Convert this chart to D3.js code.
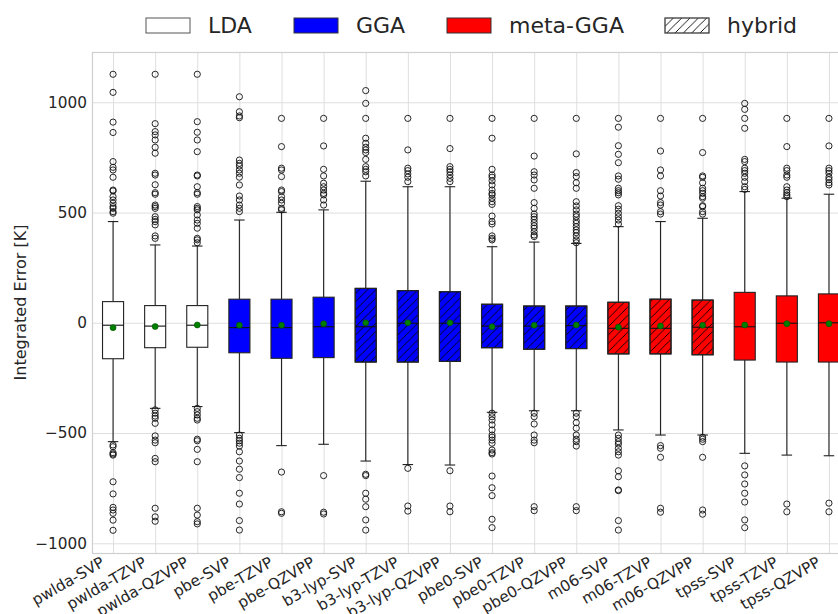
<!DOCTYPE html>
<html>
<head>
<meta charset="utf-8">
<script src="https://cdn.jsdelivr.net/npm/d3@7"></script>
<style>
  body { margin: 0; background: #fff; }
  svg, svg text { font-family: "DejaVu Sans", sans-serif; }
  .grid line { stroke: #dedede; stroke-width: 1; }
  .grid .domain { display: none; }
  .tick text { fill: #262626; }
</style>
</head>
<body>
<svg id="chart"></svg>
<script>
'use strict'

// categories (functional + basis set)
const names = ['pwlda-SVP', 'pwlda-TZVP', 'pwlda-QZVPP', 'pbe-SVP', 'pbe-TZVP', 'pbe-QZVPP',
  'b3-lyp-SVP', 'b3-lyp-TZVP', 'b3-lyp-QZVPP', 'pbe0-SVP', 'pbe0-TZVP', 'pbe0-QZVPP',
  'm06-SVP', 'm06-TZVP', 'm06-QZVPP', 'tpss-SVP', 'tpss-TZVP', 'tpss-QZVPP']
const families = ['LDA', 'LDA', 'LDA', 'GGA', 'GGA', 'GGA', 'GGA', 'GGA', 'GGA',
  'GGA', 'GGA', 'GGA', 'meta-GGA', 'meta-GGA', 'meta-GGA', 'meta-GGA', 'meta-GGA', 'meta-GGA']
const hybrid = [false, false, false, false, false, false, true, true, true,
  true, true, true, true, true, true, false, false, false]

// box statistics [K]
const q3 = [96, 78, 78, 107, 107, 116, 156, 146, 141, 84, 76, 76, 93, 107, 103, 138, 122, 131]
const medians = [-11, -15, -11, -22, -22, -18, -18, -2, -2, -15, -15, -13, -25, -25, -20, -18, -2, 0]
const q1 = [-163, -113, -111, -136, -161, -158, -178, -178, -175, -113, -120, -117, -141, -141, -145, -169, -178, -178]
const whiskerHigh = [459, 353, 348, 466, 501, 512, 642, 617, 617, 345, 366, 360, 436, 459, 474, 595, 565, 583]
const whiskerLow = [-539, -388, -380, -498, -557, -551, -627, -643, -645, -406, -399, -399, -486, -509, -509, -592, -600, -603]
const means = [-22, -17, -10, -11, -11, -4, 0, 0, 0, -18, -11, -10, -20, -15, -11, -10, -4, -4]

// fliers per category
const outliers = [
  [1127, 1045, 910, 863, 731, 705, 693, 660, 602, 598, 572, 557, 542, 527, 519, 504, 497, -554, -562, -589, -595, -600, -721, -776, -837, -849, -864, -895, -941],
  [1127, 903, 867, 852, 829, 796, 769, 678, 670, 626, 590, 583, 534, 527, 519, 481, 469, 459, 444, 394, 383, -395, -410, -423, -433, -456, -513, -532, -544, -615, -630, -841, -880, -900],
  [1127, 912, 864, 829, 776, 670, 666, 617, 590, 583, 527, 519, 512, 489, 466, 451, 429, 383, 376, 363, -388, -403, -418, -433, -441, -528, -535, -574, -630, -841, -872, -902, -912],
  [1025, 957, 938, 930, 738, 723, 711, 693, 678, 660, 625, 575, 557, 534, 519, 504, -509, -524, -535, -546, -559, -585, -627, -664, -702, -773, -822, -897, -940],
  [927, 799, 701, 693, 663, 602, 595, 572, 557, 542, 519, 512, -677, -857, -864],
  [927, 802, 696, 666, 633, 617, 602, 587, 580, 557, 534, -693, -859, -867],
  [1053, 995, 927, 837, 814, 796, 784, 772, 741, 708, 696, 685, 666, -687, -693, -773, -800, -834, -894, -940],
  [927, 784, 701, 690, 675, 660, 640, -660, -831, -854],
  [927, 790, 708, 696, 685, 670, 655, 640, -671, -831, -857],
  [927, 837, 696, 670, 660, 644, 625, 602, 587, 580, 565, 549, 537, 484, 459, 448, 394, 383, 376, -410, -426, -441, -463, -486, -509, -519, -532, -546, -577, -589, -595, -695, -748, -784, -891, -929],
  [927, 756, 685, 670, 648, 610, 545, 519, 493, 481, 469, 454, 440, 429, 413, 398, 391, -410, -426, -459, -509, -532, -544, -834, -852],
  [927, 766, 681, 663, 635, 610, 549, 530, 512, 493, 481, 463, 451, 436, 421, 409, 394, 376, 363, -410, -426, -453, -478, -509, -528, -539, -559, -834, -852],
  [927, 887, 803, 764, 726, 666, 651, 610, 599, 590, 580, 531, 515, 497, 481, 466, 448, -509, -524, -539, -550, -569, -585, -600, -671, -698, -758, -761, -897, -940],
  [927, 779, 693, 666, 599, 575, 545, 534, 504, 493, -557, -569, -610, -841, -859],
  [927, 772, 666, 660, 635, 610, 599, 587, 572, 565, 531, 527, 504, 493, -519, -528, -539, -610, -849, -868],
  [995, 968, 927, 882, 741, 731, 701, 690, 678, 660, 640, 617, 605, -649, -690, -731, -773, -813, -894, -929],
  [927, 799, 701, 690, 670, 660, 617, 602, 590, 580, 572, -822, -857],
  [927, 802, 701, 690, 678, 660, 649, 635, 625, -818, -857]
]

const yTicks = [-1000, -500, 0, 500, 1000]
const legendLabels = ['LDA', 'GGA', 'meta-GGA', 'hybrid']
const familyColors = { 'LDA': '#ffffff', 'GGA': '#0000ff', 'meta-GGA': '#ff0000' }

// rows for the boxes
const rows = names.map((name, i) => ({
  name: name,
  family: families[i],
  hybrid: hybrid[i],
  q1: q1[i], median: medians[i], q3: q3[i],
  lo: whiskerLow[i], hi: whiskerHigh[i],
  mean: means[i],
  fliers: outliers[i]
}))

const width = 838, height = 614
const margins = { top: 52, left: 92, bottom: 61 }
const plotRight = 850 // axes run a bit past the window
const plotBottom = height - margins.bottom
const fontFamily = '"DejaVu Sans", sans-serif'

const svg = d3.select('#chart').attr('width', width).attr('height', height)

const x = d3.scalePoint().domain(names).range([margins.left, plotRight]).padding(0.5)
const y = d3.scaleLinear().domain([-1044, 1228]).range([plotBottom, margins.top])
const boxWidth = x.step() * 0.5

// hatch pattern "//"
const defs = svg.append('defs')
const hs = 8.33
defs.append('pattern')
    .attr('id', 'hatch')
    .attr('patternUnits', 'userSpaceOnUse')
    .attr('width', hs).attr('height', hs)
  .append('path')
    .attr('d', `M0,${hs} L${hs},0 M${-hs / 2},${hs / 2} L${hs / 2},${-hs / 2} M${hs / 2},${hs * 1.5} L${hs * 1.5},${hs / 2}`)
    .attr('stroke', '#000').attr('stroke-width', 0.9)
defs.append('clipPath').attr('id', 'plotClip')
  .append('rect')
    .attr('x', margins.left).attr('y', margins.top)
    .attr('width', plotRight - margins.left).attr('height', plotBottom - margins.top)

// grid lines
svg.append('g')
    .attr('class', 'grid')
    .attr('transform', `translate(0,${plotBottom})`)
    .call(d3.axisBottom(x).tickSize(-(plotBottom - margins.top)).tickFormat(''))
svg.append('g')
    .attr('class', 'grid')
    .attr('transform', `translate(${margins.left},0)`)
    .call(d3.axisLeft(y).tickValues(yTicks).tickSize(-(plotRight - margins.left)).tickFormat(''))

// axes frame
svg.append('rect')
    .attr('x', margins.left + 0.5).attr('y', margins.top + 0.5)
    .attr('width', plotRight - margins.left).attr('height', plotBottom - margins.top)
    .attr('fill', 'none').attr('stroke', '#cfcfcf').attr('stroke-width', 1.2)

const plot = svg.append('g').attr('clip-path', 'url(#plotClip)')

const box = plot.selectAll('g.box')
    .data(rows)
  .enter().append('g')
    .attr('class', 'box')
    .attr('transform', (d) => `translate(${x(d.name)},0)`)

// whiskers
box.append('line')
    .attr('y1', (d) => y(d.hi)).attr('y2', (d) => y(d.q3))
    .attr('stroke', '#222').attr('stroke-width', 1.1)
box.append('line')
    .attr('y1', (d) => y(d.lo)).attr('y2', (d) => y(d.q1))
    .attr('stroke', '#222').attr('stroke-width', 1.1)
// caps
box.selectAll('line.cap')
    .data((d) => [d.lo, d.hi])
  .enter().append('line')
    .attr('class', 'cap')
    .attr('x1', -boxWidth / 4).attr('x2', boxWidth / 4)
    .attr('y1', (v) => y(v)).attr('y2', (v) => y(v))
    .attr('stroke', '#222').attr('stroke-width', 1.1)

// boxes
box.append('rect')
    .attr('x', -boxWidth / 2).attr('width', boxWidth)
    .attr('y', (d) => y(d.q3)).attr('height', (d) => y(d.q1) - y(d.q3))
    .attr('fill', (d) => familyColors[d.family])
    .attr('stroke', '#222').attr('stroke-width', 1.1)
box.filter((d) => d.hybrid).append('rect')
    .attr('x', -boxWidth / 2).attr('width', boxWidth)
    .attr('y', (d) => y(d.q3)).attr('height', (d) => y(d.q1) - y(d.q3))
    .attr('fill', 'url(#hatch)')
    .attr('stroke', '#222').attr('stroke-width', 1.1)

// median
box.append('line')
    .attr('x1', -boxWidth / 2).attr('x2', boxWidth / 2)
    .attr('y1', (d) => y(d.median)).attr('y2', (d) => y(d.median))
    .attr('stroke', '#111').attr('stroke-width', 1.1)

// fliers
box.selectAll('circle.flier')
    .data((d) => d.fliers)
  .enter().append('circle')
    .attr('class', 'flier')
    .attr('cy', (v) => y(v)).attr('r', 3.1)
    .attr('fill', 'none').attr('stroke', '#111').attr('stroke-width', 0.9)

// mean marker
box.append('circle')
    .attr('cy', (d) => y(d.mean)).attr('r', 3)
    .attr('fill', '#008000').attr('stroke', '#004d00').attr('stroke-width', 0.6)

// y axis
const yAxis = svg.append('g')
    .attr('transform', `translate(${margins.left},0)`)
    .call(d3.axisLeft(y).tickValues(yTicks).tickFormat(d3.format('d')).tickSize(0).tickPadding(5))
    .attr('font-family', fontFamily)
    .attr('font-size', 15.3)
yAxis.select('.domain').remove()

svg.append('text')
    .attr('transform', `translate(26,${(margins.top + plotBottom) / 2}) rotate(-90)`)
    .attr('text-anchor', 'middle')
    .attr('font-family', fontFamily)
    .attr('font-size', 16)
    .attr('fill', '#262626')
    .text('Integrated Error [K]')

// x axis
const xAxis = svg.append('g')
    .attr('transform', `translate(0,${plotBottom})`)
    .call(d3.axisBottom(x).tickSize(0).tickPadding(0))
    .attr('font-family', fontFamily)
    .attr('font-size', 15.3)
xAxis.select('.domain').remove()
xAxis.selectAll('text')
    .attr('text-anchor', 'end')
    .attr('dy', null)
    .attr('y', null)
    .attr('transform', 'translate(-8,12.5) rotate(-30)')

// legend
const legendX = [146, 294, 447, 665]
const legend = svg.append('g')
    .attr('font-family', fontFamily)
const item = legend.selectAll('g')
    .data(legendLabels)
  .enter().append('g')
    .attr('transform', (d, i) => `translate(${legendX[i]},18)`)
item.append('rect')
    .attr('width', 44).attr('height', 15)
    .attr('fill', (d) => d === 'hybrid' ? '#fff' : familyColors[d])
    .attr('stroke', (d) => d === 'hybrid' || d === 'LDA' ? '#555' : '#333')
    .attr('stroke-width', 1)
item.filter((d) => d === 'hybrid').append('rect')
    .attr('width', 44).attr('height', 15)
    .attr('fill', 'url(#hatch)')
    .attr('stroke', '#555').attr('stroke-width', 1)
item.append('text')
    .attr('x', 62).attr('y', 15)
    .attr('font-size', 22)
    .attr('fill', '#262626')
    .text((d) => d)
</script>
</body>
</html>
